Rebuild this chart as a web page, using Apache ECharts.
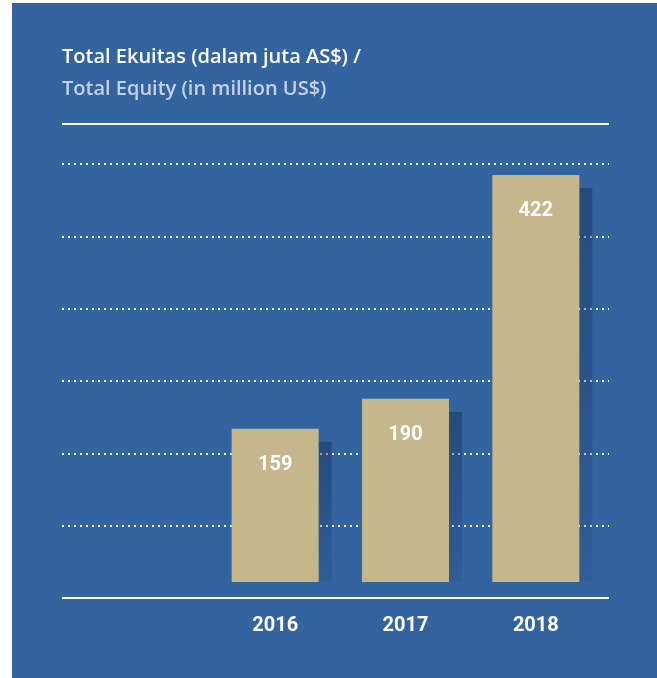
<!DOCTYPE html>
<html>
<head>
<meta charset="utf-8">
<script src="https://cdn.jsdelivr.net/npm/echarts@6/dist/echarts.min.js"></script>
<style>
  html, body { margin: 0; padding: 0; background: #ffffff; }
  #chart { width: 657px; height: 678px; }
</style>
</head>
<body>
<div id="chart"></div>
<script>
// Total equity, million US$
const years = ['2016', '2017', '2018'];
const equity = [159, 190, 422];

// Decorative guide lines behind the bars (7 evenly spaced levels)
const guideLevels = [0, 1, 2, 3, 4, 5, 6];

const titleId = 'Total Ekuitas (dalam juta AS$) /';
const titleEn = 'Total Equity (in million US$)';

const PANEL = '#3364a0';
const BAR = '#c5b78b';
const BAR_W = 87;
const SHADOW_W = 13;
const SHADOW_DROP = 13;

const chart = echarts.init(document.getElementById('chart'), null, { renderer: 'canvas' });

// Offset shadow on the right side of each bar, fading downward
function renderShadow(params, api) {
  const top = api.coord([api.value(0), api.value(1)]);
  const base = api.coord([api.value(0), 0]);
  const x = top[0] + BAR_W / 2;
  const y = top[1] + SHADOW_DROP;
  return {
    type: 'rect',
    shape: { x: x, y: y, width: SHADOW_W, height: Math.max(0, base[1] - y) },
    style: {
      fill: new echarts.graphic.LinearGradient(0, 0, 0, 1, [
        { offset: 0, color: 'rgba(20,40,80,0.43)' },
        { offset: 1, color: 'rgba(20,40,80,0.10)' }
      ])
    }
  };
}

chart.setOption({
  backgroundColor: '#ffffff',
  animation: false,
  graphic: [
    { type: 'rect', z: -10, shape: { x: 12, y: 3, width: 645, height: 675 }, style: { fill: PANEL } },
    { type: 'line', shape: { x1: 62, y1: 124, x2: 609, y2: 124 }, style: { stroke: '#ffffff', lineWidth: 2 } }
  ],
  title: [
    {
      text: titleId, left: 62, top: 47, padding: 0,
      textStyle: { color: '#ffffff', fontFamily: 'Open Sans', fontWeight: 600, fontSize: 20 }
    },
    {
      text: titleEn, left: 62, top: 79, padding: 0,
      textStyle: { color: '#c6d2e2', fontFamily: 'Open Sans', fontWeight: 600, fontSize: 20 }
    }
  ],
  grid: [
    { left: 62, right: 48, top: 164, bottom: 80 },
    { left: 210, right: 56, top: 148, bottom: 96 }
  ],
  xAxis: [
    {
      gridIndex: 0, type: 'value', min: 0, max: 1,
      axisLine: { show: false }, axisTick: { show: false },
      axisLabel: { show: false }, splitLine: { show: false }
    },
    {
      gridIndex: 1, type: 'category', data: years,
      axisLine: { show: false }, axisTick: { show: false },
      axisLabel: {
        color: '#ffffff', fontFamily: 'Roboto', fontWeight: 'bold', fontSize: 20, margin: 34
      }
    }
  ],
  yAxis: [
    {
      gridIndex: 0, type: 'value',
      min: guideLevels[0], max: guideLevels[guideLevels.length - 1], interval: 1,
      axisLine: { show: false }, axisTick: { show: false }, axisLabel: { show: false },
      splitLine: { show: true, lineStyle: { color: 'rgba(255,255,255,0.95)', width: 2, type: [2, 4] } }
    },
    {
      gridIndex: 1, type: 'value', min: 0, max: 450,
      axisLine: { show: false }, axisTick: { show: false }, axisLabel: { show: false },
      splitLine: { show: false }
    }
  ],
  series: [
    {
      // solid base line along the bottom of the guide area
      type: 'line', xAxisIndex: 0, yAxisIndex: 0,
      data: [[0, 0], [1, 0]], symbol: 'none', silent: true, z: 3,
      lineStyle: { color: '#ffffff', width: 2 }
    },
    {
      type: 'custom', xAxisIndex: 1, yAxisIndex: 1,
      data: equity.map((v, i) => [i, v]),
      encode: { x: 0, y: 1 },
      renderItem: renderShadow, z: 4, silent: true
    },
    {
      type: 'bar', xAxisIndex: 1, yAxisIndex: 1, data: equity,
      barWidth: BAR_W, z: 5,
      itemStyle: { color: BAR },
      label: {
        show: true, position: 'insideTop', distance: 26,
        color: '#ffffff', fontFamily: 'Roboto', fontWeight: 'bold', fontSize: 20
      }
    }
  ]
});
</script>
</body>
</html>
